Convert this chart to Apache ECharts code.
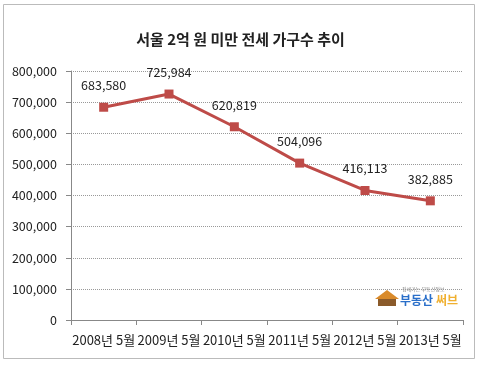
<!DOCTYPE html>
<html><head><meta charset="utf-8">
<script src="https://cdn.jsdelivr.net/npm/echarts@6/dist/echarts.min.js"></script>
<style>html,body{margin:0;padding:0;background:#fff}#c{width:481px;height:366px}</style>
</head><body><div id="c"></div>
<script>
const titleText = '서울 2억 원 미만 전세 가구수 추이';
const categories = ['2008년 5월','2009년 5월','2010년 5월','2011년 5월','2012년 5월','2013년 5월'];
const households = [683580, 725984, 620819, 504096, 416113, 382885];
const yTicks = [0, 100000, 200000, 300000, 400000, 500000, 600000, 700000, 800000];

const font = '"Noto Sans CJK KR", "Noto Sans", sans-serif';
const chart = echarts.init(document.getElementById('c'), null, {renderer:'canvas'});
chart.setOption({
  animation:false,
  backgroundColor:'#fff',
  title:{text:titleText,left:'center',top:27,textStyle:{fontFamily:font,fontSize:15,fontWeight:'bold',color:'#222'}},
  grid:{left:71,right:18,top:71,bottom:46},
  xAxis:{type:'category',data:categories,boundaryGap:true,
    axisLine:{lineStyle:{color:'#888'}},axisTick:{show:true,length:5,lineStyle:{color:'#888'}},
    axisLabel:{fontFamily:font,fontSize:13,color:'#222',margin:14,interval:0}},
  yAxis:{type:'value',min:yTicks[0],max:yTicks[yTicks.length-1],interval:100000,
    axisLine:{show:true,lineStyle:{color:'#888'}},axisTick:{show:true,length:5,lineStyle:{color:'#888'}},
    splitLine:{lineStyle:{color:'#999',type:'dotted'}},
    axisLabel:{fontFamily:font,fontSize:12.5,color:'#222',margin:14,
      formatter:v=>v.toLocaleString('en-US')}},
  series:[{type:'line',data:households,symbol:'rect',symbolSize:9,
    lineStyle:{color:'#BE4B48',width:3},itemStyle:{color:'#BE4B48'},
    label:{show:true,position:'top',distance:11,fontFamily:font,fontSize:12.5,color:'#222',
      formatter:p=>p.value.toLocaleString('en-US')}}],
  graphic:[
    {type:'rect',shape:{x:3.5,y:4.5,width:471,height:354},style:{fill:'none',stroke:'#bbb',lineWidth:1},silent:true},
    {type:'rect',shape:{x:378,y:298,width:18,height:8},style:{fill:'#8a5a2a'}},
    {type:'polygon',shape:{points:[[375,299],[387,290],[399,299]]},style:{fill:'#d98a2a'}},
    {type:'text',style:{x:402,y:287,text:'집에가는 부동산정보',font:'5px '+font,fill:'#888'}},
    {type:'text',style:{x:400,y:294,text:'부동산',font:'bold 12px '+font,fill:'#2a6fc9'}},
    {type:'text',style:{x:436,y:294,text:'써브',font:'bold 12px '+font,fill:'#f0b030'}}
  ]
});
</script></body></html>
